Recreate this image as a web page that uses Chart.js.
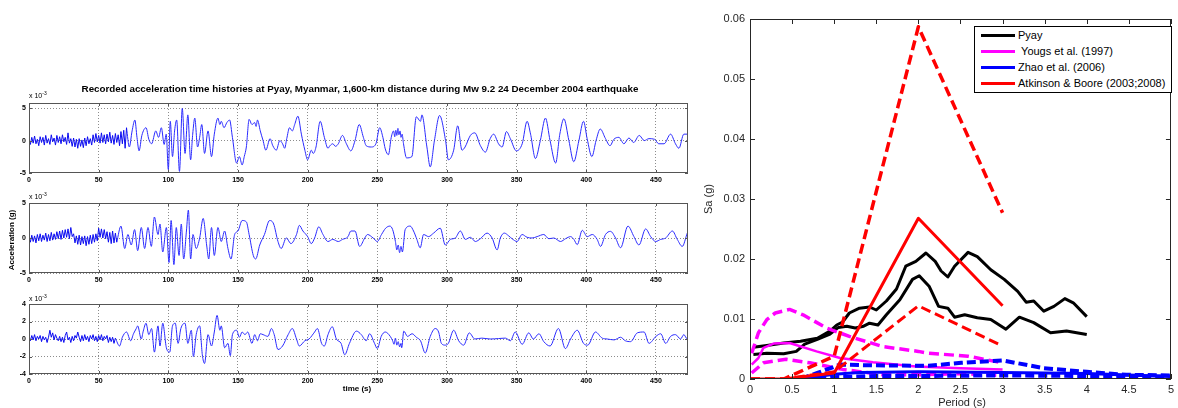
<!DOCTYPE html>
<html><head><meta charset="utf-8">
<script src="https://cdn.jsdelivr.net/npm/chart.js@4.4.0/dist/chart.umd.min.js"></script>
<style>
html,body{margin:0;padding:0;background:#fff;}
body{width:1178px;height:408px;position:relative;overflow:hidden;font-family:"Liberation Sans",Arial,sans-serif;}
canvas{position:absolute;}
.t{position:absolute;white-space:nowrap;color:#000;}
.lb{font-weight:bold;}
.exp{font-size:7px;line-height:8px;}
.exp sup{font-size:5px;vertical-align:3px;line-height:0;}
.leg{position:absolute;left:974px;top:26px;width:198px;height:67px;box-sizing:border-box;border:1px solid #000;background:#fff;}
.row{position:absolute;left:0;height:14px;width:196px;font-size:11px;line-height:14px;color:#000;}
.sw{position:absolute;left:6px;top:6px;width:34px;height:3px;}
.row span{position:absolute;left:43px;top:0;}
</style></head><body>

<canvas id="c1" width="700" height="94" style="left:0;top:95px"></canvas>
<canvas id="c2" width="700" height="94" style="left:0;top:195px"></canvas>
<canvas id="c3" width="700" height="94" style="left:0;top:296px"></canvas>
<canvas id="c4" width="478" height="408" style="left:700px;top:0"></canvas>

<div class="t lb" style="left:0;width:720px;top:83px;font-size:9.8px;line-height:12px;text-align:center">Recorded acceleration time histories at Pyay, Myanmar, 1,600-km distance during Mw 9.2 24 December 2004 earthquake</div>
<div class="t exp" style="left:29px;top:92px">x 10<sup>-3</sup></div>
<div class="t exp" style="left:29px;top:193px">x 10<sup>-3</sup></div>
<div class="t exp" style="left:29px;top:295px">x 10<sup>-3</sup></div>
<div class="t lb" style="left:-38px;top:234px;width:100px;text-align:center;font-size:8px;line-height:12px;transform:rotate(-90deg)">Acceleration (g)</div>
<div class="t lb" style="left:307px;top:383px;width:100px;text-align:center;font-size:8px;line-height:12px">time (s)</div>

<div class="t" style="left:658px;top:192px;width:100px;text-align:center;font-size:11px;line-height:14px;color:#262626;transform:rotate(-90deg)">Sa (g)</div>
<div class="t" style="left:912px;top:395px;width:100px;text-align:center;font-size:11px;line-height:14px;color:#262626">Period (s)</div>

<div class="leg">
  <div class="row" style="top:1px"><div class="sw" style="background:#000"></div><span>Pyay</span></div>
  <div class="row" style="top:17px"><div class="sw" style="background:#ff00ff"></div><span>&nbsp;Yougs et al. (1997)</span></div>
  <div class="row" style="top:33px"><div class="sw" style="background:#0000ff"></div><span>Zhao et al. (2006)</span></div>
  <div class="row" style="top:49px"><div class="sw" style="background:#ff0000"></div><span>Atkinson &amp; Boore (2003;2008)</span></div>
</div>

<script>
// ---------------- DATA ----------------
const timeTicks = [0,50,100,150,200,250,300,350,400,450];
const accTicks12 = [-5,0,5];
const accTicks3 = [-4,-2,0,2,4];

const t1 = [
0,1,2,3,4,5,6,7,8,9,
10,11,12,13,14,15,16,17,18,19,
20,21,22,23,24,25,26,27,28,29,
30,31,32,33,34,35,36,37,38,39,
40,41,42,43,44,45,46,47,48,49,
50,51,52,53,54,55,56,57,58,59,
60,61,62,63,64,65,66,67,68,69,
70,72,74,76,77.5,79,81,84,86,88,
91,93,95,97,98.5,100,101.4,103,104.5,106,
108,110,112,114,116,117.5,119,121,122.5,124,
126,128.5,131,133,135.6,137,138,140,142,144,
146,149,151,153,154.5,156,158,160,162,163,
164,166,168,170,173,175,177.5,180,182,183.5,
185,187,189,190.7,193,195.5,198,200,202.6,204,
206,209,212,214.6,216,218,220,222,225,227.8,
231,234,237,240,242,245.7,249,251.7,254,255.7,
258,260,261.7,262.5,263.3,264,264.8,265.5,266.3,267,
267.8,268.8,271,274.8,278,281,282,285.6,288,291,
294.7,299,301,304.8,307.7,310.8,313,316.8,320,324,
327.6,331,333.5,337,339.6,342.7,345.5,349.8,354,357.5,
360,363.5,367,370.7,374,378,381,383.9,387.5,391,
394.7,398,400.6,404,407,410,413.8,417,419.8,423.4,
427,430.6,434,438,441.6,445,449,452,455.8,460.5,
464,466.5,470,473];
const a1 = [
0.3,-0.6,0.5,-0.4,0.7,-0.5,0.2,-0.8,0.6,-0.3,
0.5,-0.7,0.8,-0.4,0.3,-0.6,0.9,-0.2,0.4,-0.7,
0.8,-0.3,0.6,-0.5,0.9,-0.2,0.5,-0.6,1.2,-0.4,
0.3,-0.9,0.4,-1.0,0.2,-1.2,0.3,-0.9,0.1,-1.1,
0.4,-0.8,0.6,-0.5,0.3,-0.7,0.9,-0.3,1.1,-0.2,
0.8,-0.4,1.2,-0.3,0.9,-0.5,1.0,-0.2,1.3,-0.4,
0.8,-0.6,1.1,-0.3,0.9,-0.8,1.4,-0.5,1.6,-1.2,
2.0,-1.0,1.5,3.2,0.5,-1.6,0.8,2.0,0.2,-0.5,
1.5,0.5,2.0,-0.6,1.0,-4.5,3.0,-2.5,1.5,3.2,
-4.8,5.0,-2.0,4.0,-3.0,1.0,3.5,-1.0,0.5,2.5,
-2.0,1.5,-2.5,1.0,3.5,2.5,3.0,2.0,2.8,3.2,
0.5,-3.5,-2.5,-3.8,-2.5,-1.0,3.3,2.5,2.8,2.2,
3.2,1.5,0,-1.5,0.3,-0.8,-1.5,0,-0.5,-1.2,
0.3,2.0,1.5,2.5,3.8,1.0,-1.5,-3.0,-1.5,-2.0,
-1.0,3.0,0.5,-1.2,-0.8,-0.5,-0.9,-0.5,0.8,-0.5,
-1.6,0,2.5,0.5,-0.8,-1.0,-0.5,2.0,0.5,-1.3,
-2.2,0.5,1.5,0.6,1.6,0.8,1.9,0.9,1.5,0.5,
1.0,-0.5,-2.7,-2.5,3.7,3.0,4.0,-1.0,-4.1,0,
3.9,0,-3.0,-1.5,2.3,-1.5,-1.0,0.8,1.2,-0.8,
-1.8,0.3,1.0,-0.5,-1.0,1.4,0.3,-1.6,-0.5,3.0,
1.0,-2.8,0,3.5,0,-3.5,1.0,3.4,0,-3.3,
0,3.0,0.3,-2.5,0,1.8,0.3,-0.8,0.2,0.5,
-0.5,0.4,-0.3,0.8,0,0.3,0.2,-0.5,-0.5,1.0,
-0.5,-1.2,1.0,1.0];

const t2 = [
0,1,2,3,4,5,6,7,8,9,
10,11,12,13,14,15,16,17,18,19,
20,21,22,23,24,25,26,27,28,29,
30,31,32,33,34,35,36,37,38,39,
40,41,42,43,44,45,46,47,48,49,
50,51,52,53,54,55,56,57,58,59,
60,61,62,63,66,68.7,71,73.4,75.8,78,
80.6,83,85.4,87.8,90,92.6,94,96,98.6,100.5,
102,104,105.7,107.7,109.3,111,113,114.4,116,117.7,
120,122.5,125,127.5,129,131,133,135.6,138,140.4,
142.8,145,147.6,150,153,156,158,161,162.7,165.6,
169,172.7,175.6,178.7,181,184.7,188,192,194,196.6,
200,202.6,205,208,211,214.6,218,222,225,229,
231,234,237.3,241,243,247,250,253,256,259,
261,263,264,265,266,267,268,270,273.6,276,
278.4,280.8,283.2,286.8,290.4,295.2,298.8,302.4,306,309.6,
313.2,316.8,320.4,324,328.8,332.4,336,338.3,341.2,344.3,
346.7,350.3,353.9,357.5,361.1,364.7,369.5,373.1,376.7,381.5,
385.1,388.7,391.1,393.5,397.1,400.7,404.3,407.8,410.2,413.8,
417.4,421,424.6,429.9,434.2,437.8,442.6,446.2,449.8,453.4,
457,461.8,465.3,468.9,472.5,473];
const a2 = [
0.2,-0.6,0.4,-0.5,0.3,-0.7,0.5,-0.4,0.6,-0.5,
0.4,-0.3,0.7,-0.5,0.5,-0.4,0.8,-0.3,0.6,-0.2,
0.9,-0.1,1.0,-0.2,1.1,0.0,1.2,0.1,1.3,-0.1,
1.5,0.2,0.6,-0.7,0.3,-0.9,0.4,-1.0,0.2,-0.8,
0.3,-1.1,0.2,-0.9,0.4,-0.8,0.5,-0.6,0.6,-0.4,
1.4,0.1,1.3,0.0,1.2,-0.1,0.9,-0.6,0.8,-0.8,
1.0,-0.7,0.7,-0.6,1.7,-1.5,0.5,-1.0,1.2,-1.8,
1.5,-1.5,1.5,-1.2,3.0,0.5,2.0,-2.0,1.5,-3.5,
2.5,-3.8,1.5,-2.5,2.0,-3.0,1.0,4.0,-3.0,0.5,
-1.5,0,2.8,-1.0,-3.0,1.5,-2.5,1.5,-0.5,1.0,
-1.5,-3.0,0.5,1.0,2.5,2.3,0.5,-2.5,-3.0,-1.0,
0.5,2.5,2.0,-0.5,-1.5,0,-0.8,0.5,1.8,1.0,
0.2,-0.8,0,1.6,0.5,-0.5,-0.2,-0.5,-0.2,0.2,
1.0,1.0,-1.2,0,0.5,0,-0.5,0.5,1.4,1.7,
1.2,-0.5,-1.7,-1.0,-2.1,-1.2,-2.0,1.2,1.7,1.0,
-0.2,-1.4,0.5,0.2,0.7,1.4,-1.0,-0.2,0,1.0,
-0.2,0.1,-0.5,-0.1,0.7,0,-1.7,0,0.7,0.3,
-0.1,-0.5,0.5,0.1,0,0.2,0.5,-0.1,0,-0.5,
-0.1,0.2,-0.2,-0.95,1.1,0.2,0.5,-0.2,-1.2,0.5,
0.95,0,-1.4,1.7,0.2,-1.0,1.3,0.2,-0.5,-0.2,
0,1.0,-0.2,-1.2,0.7,0.9];

const t3 = [
0,1,2,3,4,5,6,7,8,9,
10,11,12,13,14,15,16,17,18,19,
20,21,22,23,24,25,26,27,28,29,
30,31,32,33,34,35,36,37,38,39,
40,41,42,43,44,45,46,47,48,49,
50,51,52,53,54,55,56,57,58,59,
60,61,62,65,67,70,73,75,77,78,
80.6,82,84,86,88,90,92.6,94,96,98.6,
101,103,105,107,109,112,114,116.5,118,120,
122.5,124.4,126,128.5,131,133,135,137,138,140.4,
142.8,144.5,146,149,151,153,155,157,160,162,
164,166,168,171.5,174,176,178.7,182,186,189,
192,194,198,201,205,207,210,212,214.6,217.7,
220.6,224,226.6,230,235,238.5,242,244.5,248,250,
252.8,255.7,259.3,261,262,263,264,265,266,267,
267.5,269,271.7,275,278,281,284.4,288,291.6,294,
296,298.8,301,304.8,308.4,312,316,320,325,331,
337,342,345.5,349,354,358.7,362,366,369.5,374,
380,385,388.7,393.5,398,401,406.6,411.4,415,420,
424.6,428,431.8,436.6,441.5,445,450,453.4,457,460.5,
464,467.7,470,472.5,473];
const a3 = [
0.3,-0.2,0.4,-0.1,0.5,-0.2,0.3,0.0,0.4,-0.3,
0.3,-0.1,0.2,-0.4,0.2,1.0,0.2,0.7,-0.1,0.5,
0.1,-0.2,0.3,-0.3,0.2,-0.4,0.4,0.8,-0.1,0.2,
-0.4,0.3,-0.2,0.4,0.1,0.8,0.2,-0.3,0.4,-0.2,
0.5,-0.1,0.3,-0.3,0.4,0.0,0.5,-0.2,0.3,-0.3,
0.4,-0.1,0.5,-0.2,0.3,0.0,0.4,-0.4,0.2,-0.3,
0.2,-0.5,0.1,-0.8,0.2,0.8,-0.2,0.6,1.2,1.5,
0,0.9,1.8,0.5,1.2,-1.5,1.5,-0.8,1.8,-1.0,
-1.5,1.5,1.8,-0.5,1.2,1.8,-0.5,1.0,-2.0,0.5,
1.5,-1.8,-2.8,0.5,-0.8,0.8,2.7,1.0,1.5,-1.0,
-0.5,-1.9,0.5,1.0,0.2,0.8,0.5,0.8,-0.5,0.5,
-0.2,0.6,0.5,0.3,1.2,0.5,-1.2,-0.8,0.5,1.2,
0,-0.8,-0.2,0,0.8,1.2,-0.5,-0.8,0.5,1.4,
0,-0.5,-1.8,-0.5,0.9,0.5,-0.2,0.6,-0.5,-1.1,
0.3,0.8,0.3,-0.2,-0.6,0.1,-0.7,-0.3,-0.9,-0.5,
-1.0,0.9,0.3,0.6,0.2,-0.2,-1.6,0.3,1.2,0.8,
-0.5,-0.7,-0.5,1.0,-0.2,-0.7,0.7,0,0.1,0,
0.05,0.1,-0.2,0.8,-0.6,0.7,0,0.6,-0.3,-0.8,
1.2,-1.1,0,1.0,-0.5,-0.7,0.8,0.1,0,-0.1,
0.2,-0.2,-0.3,0.7,0.8,-0.5,0.3,0.6,-0.5,0.3,
0.5,0,0.5,0,0];

// time (s) up to which each record is a dense noisy band
const noiseEnd = [70, 63, 62];

// spectra
const periodTicks = [0,0.5,1,1.5,2,2.5,3,3.5,4,4.5,5];
const saTicks = [0,0.01,0.02,0.03,0.04,0.05,0.06];

const pyayHiX = [0.04,0.2,0.4,0.6,0.8,0.95,1.03,1.1,1.18,1.3,1.42,1.5,1.62,1.74,1.85,1.97,2.09,2.2,2.27,2.35,2.43,2.59,2.7,2.86,3.02,3.18,3.28,3.37,3.49,3.61,3.74,3.84,4.0];
const pyayHiY = [0.0053,0.0056,0.006,0.0063,0.0068,0.008,0.009,0.0095,0.011,0.0118,0.012,0.0115,0.013,0.015,0.0188,0.0196,0.021,0.0196,0.018,0.017,0.0188,0.0211,0.0204,0.0182,0.0166,0.0146,0.0128,0.013,0.0113,0.0121,0.0134,0.0127,0.0104];
const pyayLoX = [0.04,0.2,0.4,0.55,0.65,0.8,0.95,1.05,1.15,1.25,1.35,1.42,1.52,1.62,1.78,1.93,2.01,2.13,2.24,2.35,2.43,2.55,2.7,2.86,3.04,3.2,3.37,3.57,3.76,4.0];
const pyayLoY = [0.0041,0.0043,0.0042,0.0046,0.0058,0.0066,0.0075,0.0086,0.0088,0.0085,0.0088,0.0093,0.009,0.0107,0.0132,0.0166,0.0172,0.0154,0.0121,0.0118,0.0103,0.0107,0.0102,0.0099,0.0083,0.0103,0.0094,0.0077,0.008,0.0074];

const ygSolidX = [0.02,0.1,0.16,0.28,0.47,0.79,1.07,1.46,1.97,2.5,3.0];
const ygSolidY = [0.0024,0.0035,0.0052,0.0059,0.006,0.0046,0.0035,0.0028,0.0021,0.0018,0.0016];
const ygHiX = [0.02,0.1,0.2,0.3,0.47,0.63,0.91,1.18,1.58,2.0,2.12,2.59,3.0];
const ygHiY = [0.0043,0.0077,0.0099,0.011,0.0116,0.0107,0.0085,0.0071,0.0054,0.0046,0.0043,0.0038,0.0027];
const ygLoX = [0.02,0.16,0.43,0.71,1.1,1.58,2.0,2.5,3.0];
const ygLoY = [0.001,0.0027,0.0033,0.0027,0.0016,0.0007,0.0007,0.0009,0.0006];

const zhSolidX = [0.5,0.8,1.0,1.3,2.0,3.0,4.0,5.0];
const zhSolidY = [0,0.0004,0.0008,0.0011,0.0012,0.0011,0.0009,0.0004];
const zhHiX = [0.6,0.8,1.07,1.38,2.12,2.51,3.0,3.49,4.0,4.47,5.0];
const zhHiY = [0,0.001,0.0024,0.0023,0.0022,0.0027,0.0031,0.0018,0.0012,0.0007,0.0006];
const zhLoX = [0.8,1.0,1.5,2.0,3.0,4.0,5.0];
const zhLoY = [0,0.0003,0.0005,0.0005,0.0006,0.0005,0.0004];

const abX = [0,0.4,1,2,3];
const abMid = [0,0,0.001,0.0268,0.0122];
const abHi = [0,0,0.0038,0.0587,0.0277];
const abLo = [0,0,0.0012,0.0122,0.0055];

// ---------------- HELPERS ----------------
function pts(xs, ys){ const n=Math.min(xs.length, ys.length); const o=[]; for(let i=0;i<n;i++) o.push({x:xs[i], y:ys[i]}); return o; }

Chart.defaults.font.family = '"Liberation Sans", Arial, sans-serif';
Chart.defaults.animation = false;

const frame = {
  id:'frame',
  afterDatasetsDraw(chart, args, o){
    const {ctx, chartArea:a, scales} = chart;
    ctx.save();
    ctx.strokeStyle = o.color; ctx.lineWidth = 1;
    const L = o.tick;
    ctx.beginPath();
    scales.x.ticks.forEach(t=>{ const p=Math.round(scales.x.getPixelForValue(t.value))+0.5;
      ctx.moveTo(p,a.bottom); ctx.lineTo(p,a.bottom-L); ctx.moveTo(p,a.top); ctx.lineTo(p,a.top+L); });
    scales.y.ticks.forEach(t=>{ const p=Math.round(scales.y.getPixelForValue(t.value))+0.5;
      ctx.moveTo(a.left,p); ctx.lineTo(a.left+L,p); ctx.moveTo(a.right,p); ctx.lineTo(a.right-L,p); });
    ctx.stroke();
    ctx.strokeRect(Math.round(a.left)+0.5, Math.round(a.top)+0.5, Math.round(a.right-a.left)-1, Math.round(a.bottom-a.top)-1);
    ctx.restore();
  }
};

function timePanel(id, xs, ys, ymin, ymax, yticks, tEnd){
  const tickFont = {size:7, weight:'bold'};
  const all = pts(xs, ys);
  const noisy = all.filter(p=>p.x <= tEnd);
  const rest = all.filter(p=>p.x >= tEnd);
  return new Chart(document.getElementById(id), {
    type:'line',
    data:{datasets:[
      {data:noisy, borderColor:'#0a0af0', borderWidth:1, pointRadius:0, tension:0, fill:false},
      {data:rest, borderColor:'#2a2aff', borderWidth:1, pointRadius:0, cubicInterpolationMode:'monotone', fill:false}
    ]},
    options:{
      responsive:false, devicePixelRatio:1, animation:false,
      layout:{padding:{left:0,right:12,top:8,bottom:0}},
      plugins:{legend:{display:false}, tooltip:{enabled:false}, frame:{color:'#555', tick:3}},
      scales:{
        x:{type:'linear', min:0, max:473,
           afterBuildTicks:s=>{ s.ticks = timeTicks.map(v=>({value:v})); },
           afterFit:s=>{ s.height = 16; },
           grid:{color:'rgba(0,0,0,0.45)', drawTicks:false},
           border:{display:false, dash:[1,2]},
           ticks:{font:tickFont, color:'#000', padding:3, maxRotation:0, autoSkip:false}},
        y:{type:'linear', min:ymin, max:ymax,
           afterBuildTicks:s=>{ s.ticks = yticks.map(v=>({value:v})); },
           afterFit:s=>{ s.width = 29; },
           grid:{color:'rgba(0,0,0,0.45)', drawTicks:false},
           border:{display:false, dash:[1,2]},
           ticks:{font:tickFont, color:'#000', padding:3}}
      }
    },
    plugins:[frame]
  });
}

timePanel('c1', t1, a1, -5.05, 5.85, accTicks12, noiseEnd[0]);
timePanel('c2', t2, a2, -5, 5, accTicks12, noiseEnd[1]);
timePanel('c3', t3, a3, -4, 4, accTicks3, noiseEnd[2]);

function ds(xs, ys, color, w, dash, order){
  return {data:pts(xs,ys), borderColor:color, borderWidth:w, borderDash:dash||[], pointRadius:0, tension:0, fill:false, order:order, borderCapStyle:'butt', borderJoinStyle:'round'};
}
new Chart(document.getElementById('c4'), {
  type:'line',
  data:{datasets:[
    ds(pyayHiX, pyayHiY, '#000000', 3, null, 4),
    ds(pyayLoX, pyayLoY, '#000000', 3, null, 4),
    ds(ygSolidX, ygSolidY, '#ff00ff', 2.5, null, 3),
    ds(ygHiX, ygHiY, '#ff00ff', 3.5, [10,5], 3),
    ds(ygLoX, ygLoY, '#ff00ff', 3.5, [10,5], 3),
    ds(zhSolidX, zhSolidY, '#0000ff', 3, null, 2),
    ds(zhHiX, zhHiY, '#0000ff', 4, [9,4], 2),
    ds(zhLoX, zhLoY, '#0000ff', 4, [9,4], 2),
    ds(abX, abMid, '#ff0000', 3, null, 1),
    ds(abX, abHi, '#ff0000', 3.5, [10,5], 1),
    ds(abX, abLo, '#ff0000', 3, [10,5], 1)
  ]},
  options:{
    responsive:false, devicePixelRatio:1, animation:false,
    layout:{padding:{left:0,right:3,top:19,bottom:0}},
    plugins:{legend:{display:false}, tooltip:{enabled:false}, frame:{color:'#262626', tick:5}},
    scales:{
      x:{type:'linear', min:0, max:5,
         afterBuildTicks:s=>{ s.ticks = periodTicks.map(v=>({value:v})); },
         afterFit:s=>{ s.height = 29; },
         grid:{display:false, drawTicks:false}, border:{display:false},
         ticks:{font:{size:11}, color:'#262626', padding:4, maxRotation:0, autoSkip:false, callback:v=>String(+v.toFixed(2))}},
      y:{type:'linear', min:0, max:0.06,
         afterBuildTicks:s=>{ s.ticks = saTicks.map(v=>({value:v})); },
         afterFit:s=>{ s.width = 50; },
         grid:{display:false, drawTicks:false}, border:{display:false},
         ticks:{font:{size:11}, color:'#262626', padding:5, callback:v=>String(+v.toFixed(3))}}
    }
  },
  plugins:[frame]
});
</script>
</body></html>
